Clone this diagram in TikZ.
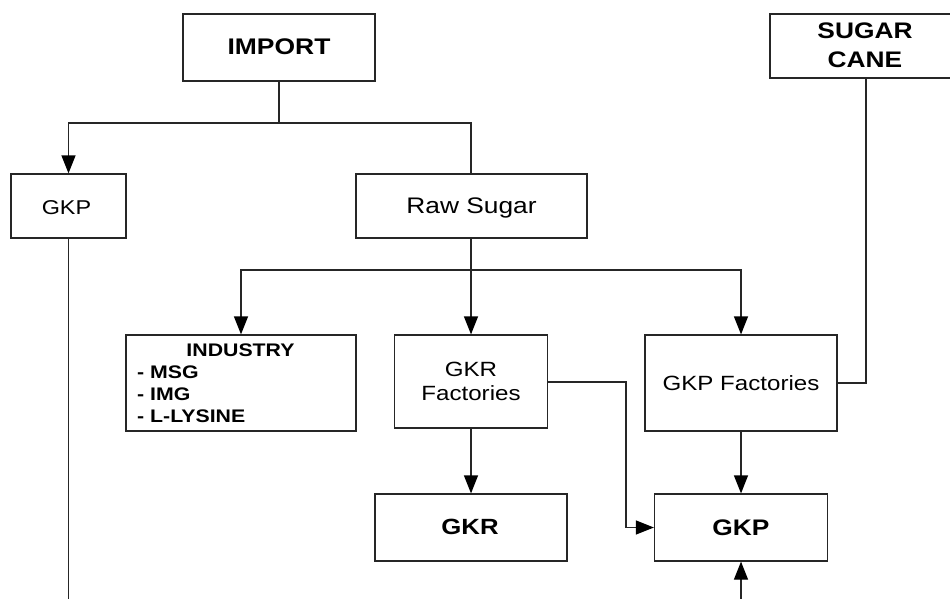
\documentclass[tikz,border=0pt]{standalone}
\usepackage{graphicx}
\usepackage{fontspec}
\setmainfont{Liberation Sans}
\usetikzlibrary{arrows.meta}
\newcommand\hs[1]{\scalebox{1.17}[1]{#1}}
\begin{document}
\begin{tikzpicture}[x=1pt,y=-1pt,
  box/.style={draw=black!85, line width=1.2pt, inner sep=0pt, fill=white},
  lbl/.style={inner sep=0pt, anchor=base, text=black},
  conn/.style={draw=black!85, line width=1.2pt},
  arr/.style={conn, -{Triangle[length=18pt,width=14pt,color=black]}},
  fr/.style={font=\fontsize{20.6}{24}\selectfont},
  fb/.style={font=\bfseries\fontsize{22.5}{26}\selectfont},
  fi/.style={font=\bfseries\fontsize{18.2}{22}\selectfont}]
\useasboundingbox (0,0) rectangle (950,599);
\clip (0,0) rectangle (950,599);
% boxes
\node[box, minimum width=192pt, minimum height=67pt] (import) at (279,47.5) {};
\node[box, minimum width=192pt, minimum height=64pt] (sugar) at (866,46) {};
\node[box, minimum width=115pt, minimum height=64pt] (gkpl) at (68.5,206) {};
\node[box, minimum width=231pt, minimum height=64pt] (raw) at (471.5,206) {};
\node[box, minimum width=230pt, minimum height=96pt] (ind) at (241,383) {};
\node[box, minimum width=153pt, minimum height=93pt] (gkrf) at (471,381.5) {};
\node[box, minimum width=192pt, minimum height=96pt] (gkpf) at (741,383) {};
\node[box, minimum width=192pt, minimum height=67pt] (gkr) at (471,527.5) {};
\node[box, minimum width=173pt, minimum height=67pt] (gkp) at (741,527.5) {};
% texts
\node[lbl, fb, font=\bfseries\fontsize{22.6}{26}\selectfont] (timport) at (279,55) {\hs{IMPORT}};
\node[lbl, fb] (tsugar1) at (865,39) {\hs{SUGAR}};
\node[lbl, fb] (tsugar2) at (865,68) {\hs{CANE}};
\node[lbl, font=\fontsize{20}{24}\selectfont] (tgkpl) at (66.5,214) {\hs{GKP}};
\node[lbl, font=\fontsize{22.5}{26}\selectfont] (traw) at (471.5,213) {\hs{Raw Sugar}};
\node[lbl, fi] (tind) at (240.5,356) {\hs{INDUSTRY}};
\node[lbl, fi, anchor=base west] (tmsg) at (137,378) {\hs{- MSG}};
\node[lbl, fi, anchor=base west] (timg) at (137,400) {\hs{- IMG}};
\node[lbl, fi, anchor=base west] (tlys) at (137,422) {\hs{- L-LYSINE}};
\node[lbl, fr] (tgkrf1) at (471,376) {\hs{GKR}};
\node[lbl, fr] (tgkrf2) at (471,400) {\hs{Factories}};
\node[lbl, fr] (tgkpf) at (741,390) {\hs{GKP Factories}};
\node[lbl, font=\bfseries\fontsize{22}{26}\selectfont] (tgkr) at (470,534) {\hs{GKR}};
\node[lbl, fb] (tgkp) at (741,535) {\hs{GKP}};
% connectors
\coordinate (j1) at (279,123);
\coordinate (j2) at (471,270);
\coordinate (bendr) at (626,382);
\coordinate (botl) at (68.5,599);
\coordinate (botr) at (741,599);
\draw[conn] (import.south) -- (j1);
\draw[arr] (j1) -| (gkpl.north);
\draw[conn] (j1) -| (raw.north -| j2);
\draw[conn] (raw.south -| j2) -- (j2);
\draw[arr] (j2) -| (ind.north);
\draw[arr] (j2) -- (gkrf.north -| j2);
\draw[arr] (j2) -| (gkpf.north);
\draw[conn] (sugar.south) |- (gkpf.east);
\draw[arr] (gkrf.east |- bendr) -- (bendr) |- (gkp.west);
\draw[arr] (gkrf.south) -- (gkr.north);
\draw[arr] (gkpf.south) -- (gkp.north);
\draw[arr] (botr) -- (gkp.south);
\draw[conn] (gkpl.south) -- (botl);
\end{tikzpicture}
\end{document}
